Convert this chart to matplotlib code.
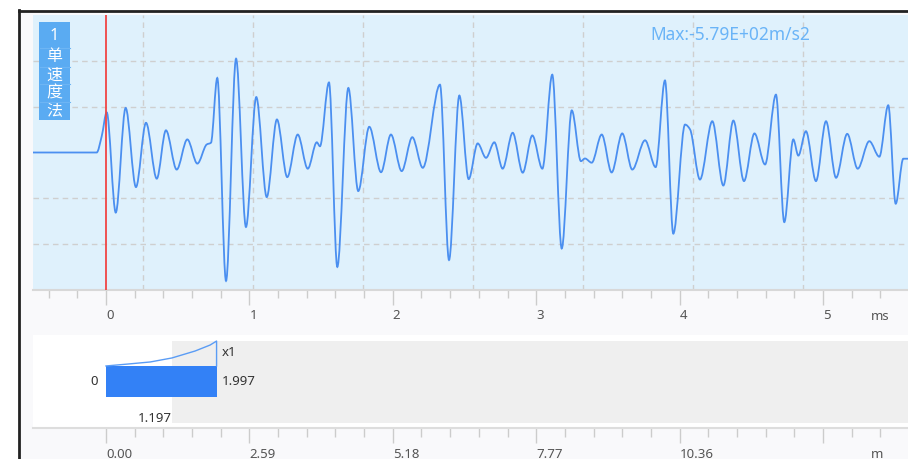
import numpy as np
import matplotlib
matplotlib.use("Agg")
import matplotlib.pyplot as plt
from matplotlib.patches import Rectangle, PathPatch
from matplotlib.lines import Line2D
from matplotlib.path import Path

plt.rcParams['font.family'] = ['Noto Sans', 'Noto Sans CJK SC', 'DejaVu Sans']

# waveform: time (ms) and acceleration (m/s2), peaks/troughs
t_ms = [-0.51, -0.065, -0.030, 0.005, 0.068, 0.137, 0.209, 0.279, 0.354, 0.418,
        0.493, 0.567, 0.637, 0.702, 0.732, 0.776, 0.837, 0.907, 0.976, 1.048,
        1.121, 1.192, 1.264, 1.337, 1.407, 1.470, 1.492, 1.555, 1.613, 1.690,
        1.759, 1.836, 1.918, 1.987, 2.062, 2.136, 2.209, 2.329, 2.392, 2.464,
        2.529, 2.592, 2.650, 2.708, 2.766, 2.836, 2.906, 2.973, 3.043, 3.112,
        3.178, 3.248, 3.312, 3.340, 3.387, 3.457, 3.526, 3.600, 3.670, 3.759,
        3.833, 3.898, 3.956, 4.038, 4.073, 4.142, 4.228, 4.305, 4.375, 4.449,
        4.522, 4.596, 4.672, 4.730, 4.793, 4.828, 4.881, 4.951, 5.021, 5.091,
        5.169, 5.242, 5.323, 5.393, 5.455, 5.507, 5.560, 5.600]
acc = [0, 0, 73, 181, -271, 201, -156, 134, -118, 100,
       -77, 59, -50, 36, 44, 336, -579, 423, -336, 250,
       -201, 149, -111, 81, -73, 46, 28, 316, -516, 291,
       -174, 116, -89, 81, -84, 69, -69, 306, -485, 257,
       -120, 41, -24, 46, -73, 89, -91, 77, -73, 351,
       -433, 190, -39, -27, -46, 81, -90, 86, -77, 55,
       -66, 325, -366, 126, 104, -122, 141, -149, 144, -129,
       86, -54, 261, -314, 59, -14, 96, -129, 141, -114,
       84, -73, 51, -19, 213, -231, -28, -28]

max_text = "Max:-5.79E+02m/s2"
tag_lines = ["1", "单", "速", "度", "法"]
ms_ticks = [0, 1, 2, 3, 4, 5]

# lower distance strip
dist_ticks = [0.00, 2.59, 5.18, 7.77, 10.36, 12.95]
dist_labels = ["0.00", "2.59", "5.18", "7.77", "10.36", ""]
bar_start = 0
bar_end = 1.997
window_start = 1.197
scale_label = "x1"
curve_m = [0, 0.40, 0.80, 1.19, 1.61, 1.88, 1.997, 1.997]
curve_lvl = [0.667, 0.688, 0.71, 0.753, 0.828, 0.892, 0.935, 0.667]

W, H = 908, 459
fig = plt.figure(figsize=(W / 100, H / 100), dpi=100)
fig.patch.set_facecolor('white')


def px_box(x0, y0, x1, y1):
    return [x0 / W, 1 - y1 / H, (x1 - x0) / W, (y1 - y0) / H]


def fx(x):
    return x / W


def fy(y):
    return 1 - y / H


def smooth_path(xs, ys):
    # cubic bezier through the read points, flat tangent at peaks/troughs
    xs = np.asarray(xs, float)
    ys = np.asarray(ys, float)
    d = np.diff(ys) / np.diff(xs)
    m = np.zeros_like(ys)
    for i in range(1, len(ys) - 1):
        if d[i - 1] * d[i] > 0:
            m[i] = 2 / (1 / d[i - 1] + 1 / d[i])
    verts = [(xs[0], ys[0])]
    codes = [Path.MOVETO]
    for i in range(len(xs) - 1):
        h = xs[i + 1] - xs[i]
        verts += [(xs[i] + h / 3, ys[i] + m[i] * h / 3),
                  (xs[i + 1] - h / 3, ys[i + 1] - m[i + 1] * h / 3),
                  (xs[i + 1], ys[i + 1])]
        codes += [Path.CURVE4] * 3
    return Path(verts, codes)


# off-white panel and dark frame
fig.patches.append(Rectangle((fx(19), 0), 1 - fx(19), fy(10), transform=fig.transFigure,
                             facecolor='#f9f9fb', edgecolor='none', zorder=-10))
fig.add_artist(Line2D([fx(19), fx(19)], [0, fy(10)], color='#222222', lw=2))
fig.add_artist(Line2D([fx(19), 1], [fy(10.5), fy(10.5)], color='#222222', lw=2))

px_per_ms = 143.4
ms_lo = (33 - 106) / px_per_ms
ms_hi = (913 - 106) / px_per_ms

# main waveform axes
ax = fig.add_axes(px_box(33, 15, 913, 290))
ax.set_facecolor('#dff1fc')
ax.set_xlim(ms_lo, ms_hi)
ax.set_ylim(-620, 620)
for x in np.linspace(ms_lo, ms_hi, 9)[1:-1]:
    ax.axvline(x, color='#cfcfcf', lw=1, ls=(0, (4, 3)), zorder=1)
for y in [-413, -207, 207, 413]:
    ax.axhline(y, color='#cfcfcf', lw=1, ls=(0, (4, 3)), zorder=1)
ax.add_patch(PathPatch(smooth_path(t_ms, acc), fill=False, edgecolor='#4b8ff0',
                       lw=1.3, zorder=3))
ax.axvline(0, color='#f04545', lw=1.3, zorder=4)

for s in ['top', 'left', 'right']:
    ax.spines[s].set_visible(False)
ax.spines['bottom'].set_color('#d8d8d8')
ax.spines['bottom'].set_linewidth(1.5)
ax.set_yticks([])
ax.set_xticks(ms_ticks, labels=[str(v) for v in ms_ticks])
ax.set_xticks(np.arange(-0.4, 5.41, 0.2), minor=True)
ax.tick_params(axis='x', which='major', length=10.5, width=1, color='#cccccc',
               labelsize=9.5, labelcolor='#555555', pad=3.5)
ax.tick_params(axis='x', which='minor', length=6, width=1, color='#cccccc')
plt.setp(ax.get_xticklabels(), ha='left')
ax.text((880 - 33) / 880, (290 - 317) / 275, 'ms', transform=ax.transAxes,
        ha='center', va='center', fontsize=9.5, color='#555555')
ax.text((650 - 33) / 880, (290 - 35) / 275, max_text, transform=ax.transAxes,
        ha='left', va='center', fontsize=12.5, color='#6ab4f7')

# channel tag
fig.patches.append(Rectangle((fx(39), fy(120)), fx(70) - fx(39), fy(22) - fy(120),
                             transform=fig.transFigure, facecolor='#5aabf2',
                             edgecolor='none', zorder=5))
for y in [48, 66.5, 84, 102]:
    fig.add_artist(Line2D([fx(39.5), fx(69.5)], [fy(y), fy(y)], color='#6db5f4', lw=0.8, zorder=6))
for txt, y in zip(tag_lines, [36, 57.5, 75.5, 93, 111]):
    fig.text(fx(54.5), fy(y), txt, ha='center', va='center', color='white',
             fontsize=11.5, zorder=7)

# lower distance axes
m_per_px = 2.59 / px_per_ms
ax2 = fig.add_axes(px_box(33, 335, 913, 428))
ax2.set_facecolor('white')
ax2.set_xlim((33 - 106) * m_per_px, (913 - 106) * m_per_px)
ax2.set_ylim(0, 1)
ax2.add_patch(Rectangle((window_start, 0.054), 20, 0.881, facecolor='#efefef',
                        edgecolor='none', zorder=1))
ax2.barh(0.5, bar_end - bar_start, left=bar_start, height=0.333, color='#3381f6', zorder=2)
ax2.plot(curve_m, curve_lvl, color='#5a9cf5', lw=1, zorder=3)
ax2.text(bar_start - 8 * m_per_px, 0.5, '0', ha='right', va='center', fontsize=9.5, color='#333333')
ax2.text(bar_end + 5 * m_per_px, 0.5, f'{bar_end:.3f}', ha='left', va='center',
         fontsize=9.5, color='#333333')
ax2.text(bar_end + 5 * m_per_px, (428 - 353) / 93, scale_label, ha='left', va='center',
         fontsize=9.5, color='#333333')
ax2.text(window_start, (428 - 418) / 93, f'{window_start:.3f}', ha='right', va='center',
         fontsize=9.5, color='#333333')

for s in ['top', 'left', 'right']:
    ax2.spines[s].set_visible(False)
ax2.spines['bottom'].set_color('#dddddd')
ax2.spines['bottom'].set_linewidth(1.5)
ax2.set_yticks([])
ax2.set_xticks(dist_ticks, labels=dist_labels)
ax2.set_xticks(np.arange(0, 14.1, 0.518), minor=True)
ax2.tick_params(axis='x', which='major', length=10.5, width=1, color='#cccccc',
                labelsize=9.5, labelcolor='#555555', pad=4)
ax2.tick_params(axis='x', which='minor', length=6.5, width=1, color='#cccccc')
plt.setp(ax2.get_xticklabels(), ha='left')
ax2.text((877 - 33) / 880, (428 - 454) / 93, 'm', transform=ax2.transAxes,
         ha='center', va='center', fontsize=9.5, color='#555555')

fig.savefig('out.png', dpi=100)
